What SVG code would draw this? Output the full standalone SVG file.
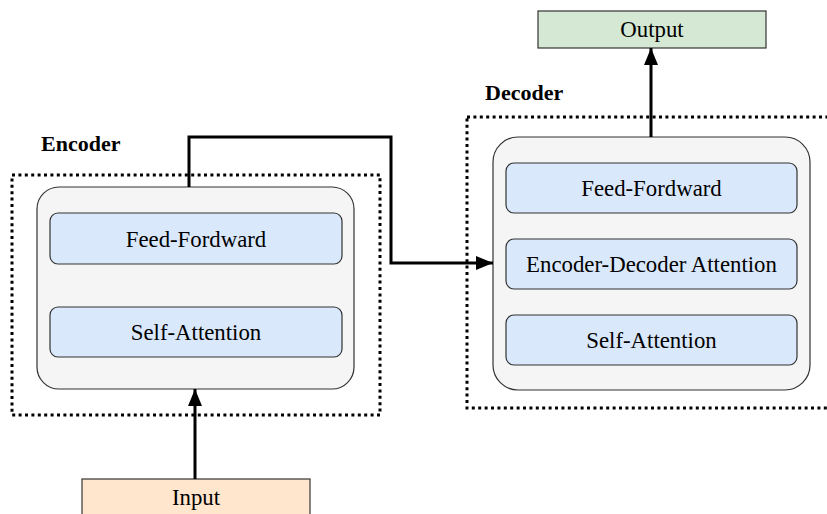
<svg xmlns="http://www.w3.org/2000/svg" width="827" height="514" viewBox="0 0 827 514" font-family="'Liberation Serif', 'Times New Roman', serif">
  <defs>
    <marker id="arrow" markerUnits="userSpaceOnUse" markerWidth="18" markerHeight="14" refX="17" refY="7" orient="auto">
      <path d="M0,0 L17,7 L0,14 Z" fill="#000"/>
    </marker>
    <style>
      .group { fill: none; stroke: #000; stroke-width: 3; stroke-dasharray: 3 3.4; }
      .block { fill: #f5f5f5; stroke: #333; stroke-width: 1.2; }
      .layer { fill: #dae8fc; stroke: #333; stroke-width: 1.2; }
      .io-out { fill: #d5e8d4; stroke: #333; stroke-width: 1.2; }
      .io-in { fill: #ffe6cc; stroke: #333; stroke-width: 1.2; }
      .txt { font-size: 22.8px; fill: #000; text-anchor: middle; }
      .title { font-size: 22px; font-weight: bold; fill: #000; }
      .wire { fill: none; stroke: #000; stroke-width: 3; }
    </style>
  </defs>

  <rect width="827" height="514" fill="#fff"/>

  <!-- Encoder stack -->
  <g id="encoder-group">
    <rect class="group" x="12" y="175" width="368" height="240"/>
    <text class="title" x="41" y="151" font-family="'Liberation Serif', serif">Encoder</text>
  </g>
  <g id="encoder">
    <rect class="block" x="37" y="187" width="317" height="202" rx="22"/>
  </g>
  <g id="enc-ff">
    <rect class="layer" x="50" y="213" width="292" height="51" rx="8"/>
    <text class="txt" x="196" y="246.5" font-family="'Liberation Serif', serif">Feed-Fordward</text>
  </g>
  <g id="enc-sa">
    <rect class="layer" x="50" y="307" width="292" height="50" rx="8"/>
    <text class="txt" x="196" y="340" font-family="'Liberation Serif', serif">Self-Attention</text>
  </g>

  <!-- Decoder stack -->
  <g id="decoder-group">
    <rect class="group" x="467" y="117" width="380" height="291"/>
    <text class="title" x="485" y="100" font-family="'Liberation Serif', serif">Decoder</text>
  </g>
  <g id="decoder">
    <rect class="block" x="493" y="137" width="317" height="253" rx="25"/>
  </g>
  <g id="dec-ff">
    <rect class="layer" x="506" y="163" width="291" height="50" rx="8"/>
    <text class="txt" x="651.5" y="196" font-family="'Liberation Serif', serif">Feed-Fordward</text>
  </g>
  <g id="dec-eda">
    <rect class="layer" x="506" y="239" width="291" height="50" rx="8"/>
    <text class="txt" x="651.5" y="272" font-family="'Liberation Serif', serif">Encoder-Decoder Attention</text>
  </g>
  <g id="dec-sa">
    <rect class="layer" x="506" y="315" width="291" height="50" rx="8"/>
    <text class="txt" x="651.5" y="348" font-family="'Liberation Serif', serif">Self-Attention</text>
  </g>

  <!-- Input / output -->
  <g id="output">
    <rect class="io-out" x="538" y="11" width="228" height="37"/>
    <text class="txt" x="652" y="37" font-family="'Liberation Serif', serif">Output</text>
  </g>
  <g id="input">
    <rect class="io-in" x="82" y="479" width="228" height="40"/>
    <text class="txt" x="196" y="505" font-family="'Liberation Serif', serif">Input</text>
  </g>

  <!-- Connectors -->
  <g id="connectors">
    <path class="wire" d="M195,479 L195,389" marker-end="url(#arrow)"/>
    <path class="wire" d="M189,187 L189,137 L391,137 L391,263 L493,263" marker-end="url(#arrow)"/>
    <path class="wire" d="M651,137 L651,48" marker-end="url(#arrow)"/>
  </g>
</svg>
